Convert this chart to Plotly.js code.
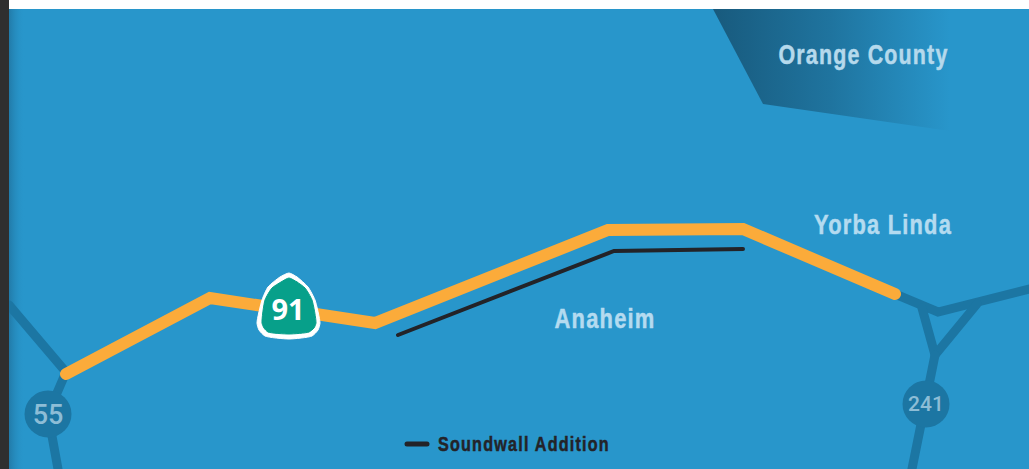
<!DOCTYPE html>
<html>
<head>
<meta charset="utf-8">
<script src="https://cdn.plot.ly/plotly-3.0.1.min.js"></script>
<style>
html,body{margin:0;padding:0;background:#fff;overflow:hidden}
#chart{width:1029px;height:469px}
.js-line{stroke-linecap:round;stroke-linejoin:miter !important;stroke-miterlimit:4 !important}
</style>
</head>
<body>
<div id="chart"></div>
<script>
var routeX=[66,210,375,608,743,895];
var routeY=[374,298,323,230,229,294];
var wallX=[398,614,743];
var wallY=[335,251,249];
var road55X=[9,66,48,58];
var road55Y=[305,372,414,469];
var road241aX=[895,938,1029];
var road241aY=[294,312,289];
var road241bX=[922,935,977];
var road241bY=[308,355,304];
var road241cX=[935,926,912];
var road241cY=[355,404,469];
var badgeX=[48,926];
var badgeY=[414,404];
var badgeLabels=["55","241"];
var badgeLabelY=[417,406];
var badgeFontSizes=[27,21];
var countyX=[713,763,950,950,713];
var countyY=[9,104,131,9,9];
var shieldOuterX=[289,297,308,315,320,318,312,289,265,259,257,262,268,280,289];
var shieldOuterY=[273,277,287,300,323,330,336,339,336,330,323,300,287,277,273];
var shieldInnerX=[289,297,305,312,316,314,309,289,268,264,262,265,272,281,289];
var shieldInnerY=[278,282,288,300,323,328,332,334,332,328,323,300,288,282,278];
var placeNames=["Orange County","Yorba Linda","Anaheim","Soundwall Addition"];
var placeX=[863,883,605,524];
var placeY=[55,225,319,444];
var placeWidths=[170,138,101,172];
var placeSizes=[27,27,27,20];
var legendX=[407,427];
var legendY=[444,444];

var BG='#2896cb',ROAD='#1c76a3',ORANGE='#fbab3a',INK='#232328';
function line(x,y,c,w,shape){return {x:x,y:y,mode:'lines',line:{color:c,width:w,shape:shape||'linear'},hoverinfo:'skip'};}
var traces=[
 {x:[9,25,25,9,9],y:[9,9,469,469,9],mode:'lines',fill:'toself',line:{width:0},hoverinfo:'skip',
  fillgradient:{type:'horizontal',colorscale:[[0,'rgba(28,100,140,0.55)'],[1,'rgba(40,150,203,0)']]}},
 {x:countyX,y:countyY,mode:'lines',fill:'toself',line:{width:0},hoverinfo:'skip',
  fillgradient:{type:'horizontal',colorscale:[[0,'#185a7d'],[0.5,'#1f749f'],[1,'#2896cb']]}},
 line(road55X,road55Y,ROAD,9),
 line(road241aX,road241aY,ROAD,9),
 line(road241bX,road241bY,ROAD,9),
 line(road241cX,road241cY,ROAD,9),
 {x:badgeX,y:badgeY,mode:'markers',marker:{size:47,color:ROAD,line:{width:0}},hoverinfo:'skip'},
 {x:badgeX,y:badgeLabelY,mode:'text',text:badgeLabels,textposition:'middle center',
  textfont:{family:'Roboto, Arial, sans-serif',size:badgeFontSizes,weight:500,color:'#8dbdd6'},hoverinfo:'skip'},
 line(routeX,routeY,ORANGE,12),
 line(wallX,wallY,INK,4),
 line(legendX,legendY,INK,5),
 {x:shieldOuterX,y:shieldOuterY,mode:'lines',fill:'toself',fillcolor:'#ffffff',line:{color:'#ffffff',width:1,shape:'spline',smoothing:0.6},hoverinfo:'skip'},
 {x:shieldInnerX,y:shieldInnerY,mode:'lines',fill:'toself',fillcolor:'#07a08a',line:{color:'#07a08a',width:1,shape:'spline',smoothing:0.6},hoverinfo:'skip'},
 {x:[288],y:[313],mode:'text',text:['91'],textposition:'middle center',textfont:{family:'Open Sans, Noto Sans, sans-serif',size:29,weight:700,color:'#ffffff'},hoverinfo:'skip'}
];
var cityCol=['#b5d9ec','#b4dbf0','#b4dbf0',INK];
var annotations=placeNames.map(function(t,i){return {text:'<b>'+t+'</b>',x:placeX[i],y:placeY[i],xref:'x',yref:'y',showarrow:false,xanchor:'center',yanchor:'middle',font:{family:'Liberation Sans, Arial, sans-serif',size:placeSizes[i],color:cityCol[i]}};});
var layout={
 width:1029,height:469,margin:{l:0,r:0,t:0,b:0},showlegend:false,
 paper_bgcolor:'#ffffff',plot_bgcolor:'#ffffff',
 xaxis:{range:[0,1029],visible:false,fixedrange:true},
 yaxis:{range:[469,0],visible:false,fixedrange:true},
 shapes:[
  {type:'rect',xref:'x',yref:'y',x0:0,x1:1029,y0:9,y1:469,fillcolor:BG,line:{width:0},layer:'below'},
  {type:'rect',xref:'x',yref:'y',x0:0,x1:9,y0:0,y1:469,fillcolor:'#2f2f2f',line:{width:0},layer:'above'}
 ],
 annotations:annotations
};
Plotly.newPlot('chart',traces,layout,{staticPlot:true,displayModeBar:false}).then(function(gd){
 gd.querySelectorAll('.annotation-text').forEach(function(el){
  var i=placeNames.indexOf(el.textContent);
  if(i<0)return;
  el.style.letterSpacing='1.5px';
  el.style.stroke=cityCol[i];
  el.style.strokeWidth='0.5px';
  el.setAttribute('textLength',placeWidths[i]);
  el.setAttribute('lengthAdjust','spacingAndGlyphs');
 });
});
</script>
</body>
</html>
